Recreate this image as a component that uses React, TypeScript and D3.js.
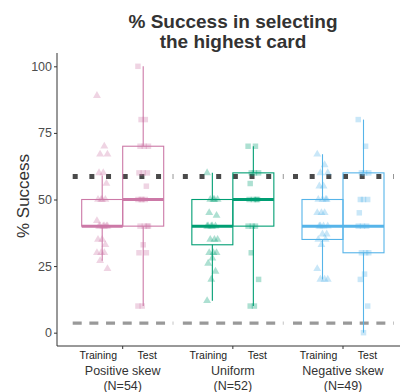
import { useRef, useEffect } from 'react';
import * as d3 from 'd3';

const WIDTH = 401;
const HEIGHT = 392;
const FONT = '"Liberation Sans", Arial, sans-serif';

const groups = ['Positive skew', 'Uniform', 'Negative skew'];
const groupN = [54, 52, 49];
const conditions = ['Training', 'Test'];
const colors = ['#CC79A7', '#009E73', '#56B4E9'];
const yTicks = [0, 25, 50, 75, 100];

// box stats: [low whisker, q1, median, q3, high whisker]
const trainingStats = [
  [27, 40, 40, 50, 59],
  [12, 33, 40, 50, 60],
  [20, 35, 40, 50, 67],
];
const testStats = [
  [10, 40, 50, 70, 100],
  [10, 40, 50, 60, 70],
  [0, 30, 40, 60, 80],
];

// individual participants (overlapping ones repeated)
const trainingPoints = [
  [89, 70, 67, 67, 60, 60, 56, 50, 50, 50, 50, 42, 40, 40, 40, 40, 40, 40, 35, 35, 33, 30, 30, 30, 27, 24],
  [60, 50, 50, 50, 50, 45, 44, 40, 40, 40, 40, 40, 35, 35, 35, 30, 30, 30, 28, 26, 23, 20, 12],
  [67, 63, 60, 60, 55, 55, 50, 50, 50, 50, 45, 45, 45, 40, 40, 40, 40, 37, 37, 35, 35, 33, 24, 20, 20, 20],
];
const testPoints = [
  [100, 80, 80, 70, 70, 70, 60, 60, 60, 55, 50, 50, 50, 50, 40, 40, 40, 40, 33, 30, 30, 10, 10],
  [70, 70, 60, 60, 60, 56, 50, 50, 50, 50, 40, 40, 40, 30, 20, 10, 10],
  [80, 70, 60, 60, 60, 50, 50, 50, 45, 40, 40, 40, 30, 30, 30, 22, 20, 10, 0],
];

const optimalLevel = 58.6;
const chanceLevel = 3.6;

export default function App() {
  const svgRef = useRef<SVGSVGElement>(null);

  useEffect(() => {
    if (!svgRef.current) return;
    const svg = d3.select(svgRef.current);
    svg.selectAll('*').remove();

    const y = d3.scaleLinear().domain([-5, 105]).range([346, 53]);
    const gx = d3.scaleLinear().domain([0, 2]).range([122.7, 343]);
    const cx = d3.scaleBand().domain(conditions).range([-41, 41]);
    const bw = cx.bandwidth();

    // title
    const title = svg.append('text')
      .attr('x', 233)
      .attr('text-anchor', 'middle')
      .attr('font-family', FONT)
      .attr('font-size', '19px')
      .attr('font-weight', 'bold')
      .attr('fill', '#333');
    title.append('tspan').attr('x', 233).attr('y', 28).text('% Success in selecting');
    title.append('tspan').attr('x', 233).attr('y', 48).text('the highest card');

    // y label
    svg.append('text')
      .attr('transform', 'translate(29,196) rotate(-90)')
      .attr('text-anchor', 'middle')
      .attr('font-family', FONT)
      .attr('font-size', '17px')
      .attr('fill', '#333')
      .text('% Success');

    // y axis
    const yAxis = svg.append('g')
      .attr('transform', 'translate(57,0)')
      .call(d3.axisLeft(y).tickValues(yTicks).tickSize(3).tickPadding(2).tickSizeOuter(0));
    yAxis.select('.domain').attr('stroke', '#333').attr('d', 'M0,53V346');
    yAxis.selectAll('.tick line').attr('stroke', '#333');
    yAxis.selectAll('text')
      .attr('font-family', FONT)
      .attr('font-size', '12.5px')
      .attr('fill', '#4d4d4d');

    // x axis line + ticks
    svg.append('line')
      .attr('x1', 57).attr('x2', 400)
      .attr('y1', 346).attr('y2', 346)
      .attr('stroke', '#333');

    groups.forEach((name, gi) => {
      const c = gx(gi);
      const col = colors[gi];
      const g = svg.append('g');

      // reference lines (per group)
      g.append('line')
        .attr('x1', c - 50).attr('x2', c + 50.6)
        .attr('y1', y(optimalLevel)).attr('y2', y(optimalLevel))
        .attr('stroke', '#4a4a4a')
        .attr('stroke-width', 5)
        .attr('stroke-dasharray', '5 11.67');
      g.append('line')
        .attr('x1', c - 50).attr('x2', c + 50.6)
        .attr('y1', y(chanceLevel)).attr('y2', y(chanceLevel))
        .attr('stroke', '#999')
        .attr('stroke-width', 3.3)
        .attr('stroke-dasharray', '9 7.67');

      conditions.forEach((cond) => {
        const stats = cond === 'Training' ? trainingStats[gi] : testStats[gi];
        const pts = cond === 'Training' ? trainingPoints[gi] : testPoints[gi];
        const left = c + (cx(cond) ?? 0);
        const mid = left + bw / 2;
        const [lo, q1, med, q3, hi] = stats;

        // whiskers
        g.append('line')
          .attr('x1', mid).attr('x2', mid)
          .attr('y1', y(hi)).attr('y2', y(q3))
          .attr('stroke', col).attr('stroke-width', 1.1);
        g.append('line')
          .attr('x1', mid).attr('x2', mid)
          .attr('y1', y(q1)).attr('y2', y(lo))
          .attr('stroke', col).attr('stroke-width', 1.1);

        // box
        g.append('rect')
          .attr('x', left).attr('width', bw)
          .attr('y', y(q3)).attr('height', y(q1) - y(q3))
          .attr('fill', 'none')
          .attr('stroke', col)
          .attr('stroke-width', 1.1);
        g.append('line')
          .attr('x1', left).attr('x2', left + bw)
          .attr('y1', y(med)).attr('y2', y(med))
          .attr('stroke', col).attr('stroke-width', 3);

        // points, small fixed horizontal spread so stacks stay visible
        const sym = d3.symbol()
          .type(cond === 'Training' ? d3.symbolTriangle : d3.symbolSquare)
          .size(cond === 'Training' ? 27 : 30);
        g.selectAll(null)
          .data(pts)
          .join('path')
          .attr('d', sym)
          .attr('transform', (d, i) => {
            const jit = (((i * 7) % 11) - 5) * 1.05;
            return `translate(${mid + jit},${y(d)})`;
          })
          .attr('fill', col)
          .attr('fill-opacity', 0.32);

        // condition label
        svg.append('text')
          .attr('x', c + (cond === 'Training' ? -24.5 : 24.5))
          .attr('y', 359)
          .attr('text-anchor', 'middle')
          .attr('font-family', FONT)
          .attr('font-size', '10.5px')
          .attr('fill', '#222')
          .text(cond);
      });

      svg.append('line')
        .attr('x1', c).attr('x2', c)
        .attr('y1', 346).attr('y2', 349)
        .attr('stroke', '#333');

      svg.append('text')
        .attr('x', c).attr('y', 375)
        .attr('text-anchor', 'middle')
        .attr('font-family', FONT)
        .attr('font-size', '12.5px')
        .attr('fill', '#333')
        .text(name);
      svg.append('text')
        .attr('x', c).attr('y', 389.5)
        .attr('text-anchor', 'middle')
        .attr('font-family', FONT)
        .attr('font-size', '12.5px')
        .attr('fill', '#333')
        .text(`(N=${groupN[gi]})`);
    });
  }, []);

  return (
    <svg
      ref={svgRef}
      width={WIDTH}
      height={HEIGHT}
      style={{ position: 'absolute', left: 0, top: 0, background: '#fff' }}
    />
  );
}
